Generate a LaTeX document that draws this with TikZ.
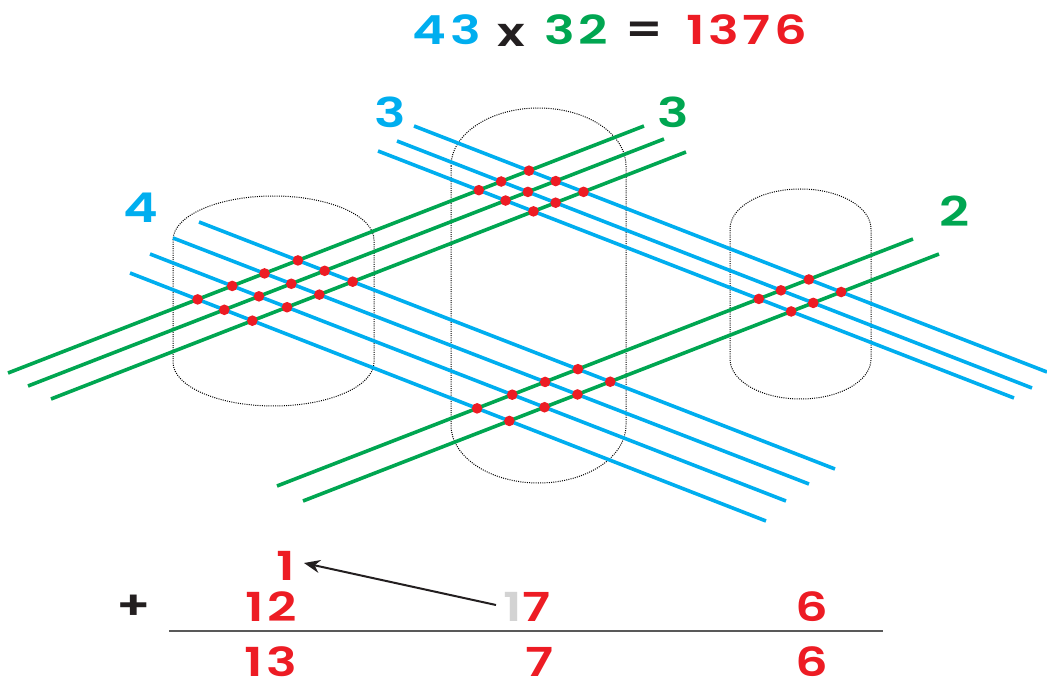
\documentclass[tikz,border=0pt]{standalone}
\usepackage{fontspec}
\setmainfont{Poppins}
\IfFontExistsTF{Poppins SemiBold}
  {\newfontfamily\digfont{Poppins SemiBold}[LetterSpace=9, FakeStretch=1.28, Numbers=Monospaced]}
  {\IfFontExistsTF{Poppins Medium}
    {\newfontfamily\digfont{Poppins Medium}[LetterSpace=9, FakeStretch=1.28, Numbers=Monospaced]}
    {\newfontfamily\digfont{Poppins}[LetterSpace=9, FakeStretch=1.28, Numbers=Monospaced, UprightFont=*-Bold]}}
\usetikzlibrary{arrows.meta}
\definecolor{cblue}{RGB}{0,174,239}
\definecolor{cgreen}{RGB}{0,166,81}
\definecolor{cred}{RGB}{237,28,36}
\definecolor{cgray}{RGB}{211,211,211}
\definecolor{cblack}{RGB}{35,31,32}
\newcommand\cylpath[5]{%
  \draw[cyl] (#1,#3+#5) arc[start angle=180,end angle=360,x radius={(#2-#1)/2},y radius=#5]
    -- (#2,#4-#5) arc[start angle=0,end angle=180,x radius={(#2-#1)/2},y radius=#5] -- cycle;}
\begin{document}
\begin{tikzpicture}[x=1pt,y=-1pt,
  bline/.style={cblue, line width=3.6pt},
  gline/.style={cgreen, line width=3.6pt},
  cyl/.style={black, line width=1pt, dash pattern=on 1pt off 1.2pt},
  lab/.style={font=\digfont\fontsize{41}{41}\selectfont, inner sep=0pt},
  num/.style={font=\digfont\fontsize{40}{40}\selectfont, inner sep=0pt},
  rulel/.style={black!65, line width=1.3pt},
  arr/.style={cblack, line width=2pt, -{Stealth[length=16pt,width=13pt]}}]
\useasboundingbox (0,0) rectangle (1047,684);
% cylinders
\cylpath{173}{374}{196}{406}{44}
\cylpath{451}{626}{108}{483}{58}
\cylpath{730}{871}{189}{399}{40}
% endpoints
\coordinate (A1s) at (199,222); \coordinate (A1e) at (835,469);
\coordinate (A2s) at (173,238); \coordinate (A2e) at (809,484);
\coordinate (A3s) at (150,254); \coordinate (A3e) at (786,501);
\coordinate (A4s) at (130,273); \coordinate (A4e) at (766,521);
\coordinate (B1s) at (414,126); \coordinate (B1e) at (1047,372);
\coordinate (B2s) at (397,141); \coordinate (B2e) at (1032,388);
\coordinate (B3s) at (378,151); \coordinate (B3e) at (1014,398);
\coordinate (C1s) at (8,373);   \coordinate (C1e) at (644,126);
\coordinate (C2s) at (28,386);  \coordinate (C2e) at (664,139);
\coordinate (C3s) at (51,399);  \coordinate (C3e) at (686,152);
\coordinate (D1s) at (277,486); \coordinate (D1e) at (913,239);
\coordinate (D2s) at (303,501); \coordinate (D2e) at (939,254);
% lines
\foreach \b in {A1,A2,A3,A4,B1,B2,B3} \draw[bline] (\b s) -- (\b e);
\foreach \g in {C1,C2,C3,D1,D2} \draw[gline] (\g s) -- (\g e);
% dots
\foreach \b in {A1,A2,A3,A4} \foreach \g in {C1,C2,C3,D1,D2}
  \fill[cred] (intersection of \b s--\b e and \g s--\g e) circle (5.3);
\foreach \b in {B1,B2,B3} \foreach \g in {C1,C2,C3,D1,D2}
  \fill[cred] (intersection of \b s--\b e and \g s--\g e) circle (5.3);
% digit labels
\node[lab, text=cblue] (l4) at (141,208) {4};
\node[lab, text=cblue] (l3b) at (390,112) {3};
\node[lab, text=cgreen] (l3g) at (673,112) {3};
\node[lab, text=cgreen] (l2) at (955,211) {2};
% title
\node[num, text=cblue] (t43) at (447,30) {43};
\node[num, text=cblack] (tx) at (511,35) {x};
\node[num, text=cgreen] (t32) at (576,30) {32};
\node[num, text=cblack] (teq) at (644,33) {=};
\node[num, text=cred] (tres) at (747,30) {1376};
% sum
\node[num, text=cred] (c1) at (286,566) {1};
\node[num, text=cblack] (plus) at (134,607) {+};
\node[num, text=cred] (n12) at (271,607) {12};
\node[num, text=cred] (n17) at (527,607) {\textcolor{cgray}{1}7};
\node[num, text=cred] (n6) at (812,607) {6};
\coordinate (rl) at (169,631); \coordinate (rr) at (883,631);
\draw[rulel] (rl) -- (rr);
\node[num, text=cred] (r13) at (271,662) {13};
\node[num, text=cred] (r7) at (540,662) {7};
\node[num, text=cred] (r6) at (812,662) {6};
\coordinate (as) at (496,605); \coordinate (ae) at (304,563);
\draw[arr] (as) -- (ae);
\end{tikzpicture}
\end{document}
